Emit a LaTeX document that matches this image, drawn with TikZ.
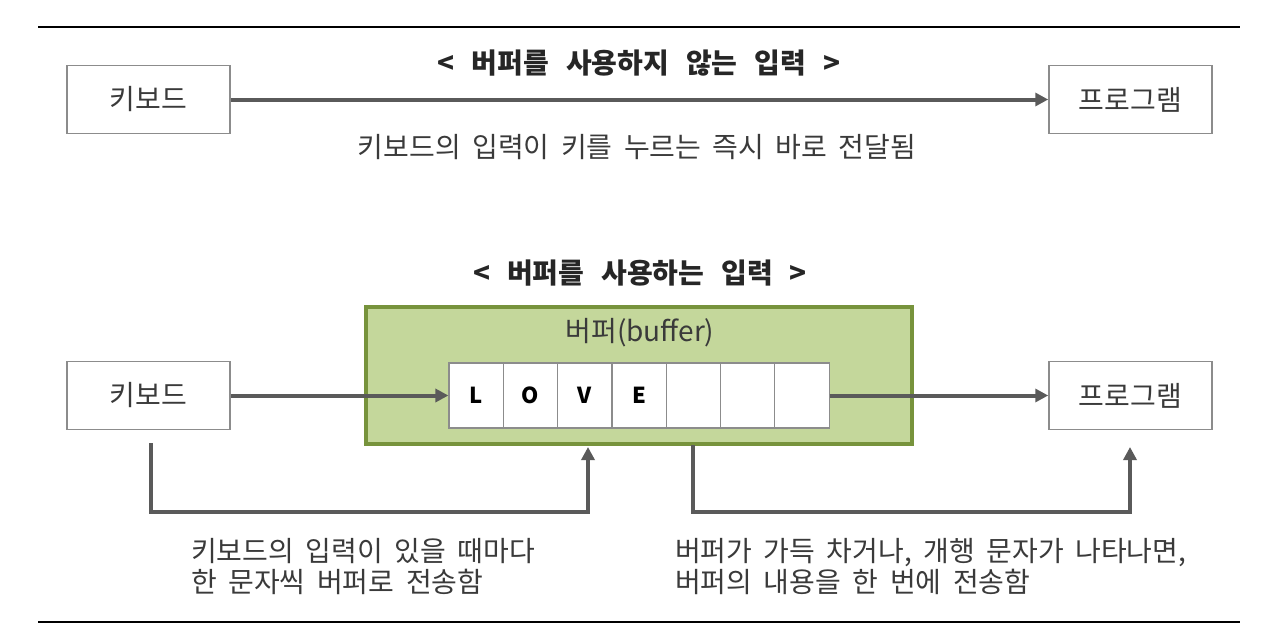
\documentclass[tikz,border=0pt]{standalone}
\usepackage{fontspec}
\setmainfont{Noto Sans CJK KR}
\usetikzlibrary{arrows.meta,calc}
\definecolor{linegray}{HTML}{5A5A5A}
\definecolor{boxgray}{HTML}{8C8C8C}
\definecolor{txtgray}{HTML}{3A3A3A}
\definecolor{bufgreen}{HTML}{C4D79B}
\definecolor{bufedge}{HTML}{77933C}
\newcommand{\korfont}{\fontsize{28}{31}\selectfont\spaceskip=11.5pt\relax}
\newcommand{\kortitle}{\fontsize{28}{31}\selectfont\bfseries\spaceskip=17pt\relax}
\tikzset{
  endbox/.style={draw=boxgray, line width=1.5pt, fill=white, minimum width=163pt, minimum height=68pt, inner sep=0pt, font=\korfont, text=txtgray},
  cellbox/.style={draw=boxgray, line width=1.2pt, fill=white, minimum width=54.3pt, minimum height=65pt, inner sep=0pt, font=\fontsize{22}{26}\selectfont\bfseries, text=black},
  conn/.style={draw=linegray, line width=4pt, -{Triangle[length=13pt,width=13pt]}},
  titletxt/.style={font=\kortitle, text=black!85},
  plaintxt/.style={font=\korfont, text=txtgray},
  caption/.style={font=\korfont, text=txtgray, align=left, anchor=west, inner sep=0pt},
}
\begin{document}
\begin{tikzpicture}[x=1pt,y=-1pt]
\useasboundingbox (0,0) rectangle (1280,640);
% rules
\coordinate (r1a) at (38,27);
\coordinate (r1b) at (1240,27);
\coordinate (r2a) at (38,622);
\coordinate (r2b) at (1240,622);
\draw[line width=2pt, black] (r1a) -- (r1b);
\draw[line width=2pt, black] (r2a) -- (r2b);
% top diagram
\node[titletxt] (t1) at (639,63) {< 버퍼를 사용하지 않는 입력 >};
\node[endbox] (kb1) at (148.5,99.5) {키보드};
\node[endbox] (pg1) at (1130.5,99.5) {프로그램};
\draw[conn] (kb1.east) -- (pg1.west);
\node[plaintxt] (c1) at (637,147) {키보드의 입력이 키를 누르는 즉시 바로 전달됨};
% bottom diagram
\node[titletxt] (t2) at (640,273) {< 버퍼를 사용하는 입력 >};
\node[draw=bufedge, fill=bufgreen, line width=4pt, minimum width=546pt, minimum height=137pt, inner sep=0pt] (buf) at (639,375) {};
\node[plaintxt] (bl) at (640,333) {버퍼(buffer)};
\foreach \i/\ch in {1/L,2/O,3/V,4/E,5/{},6/{},7/{}} {
  \node[cellbox] (cell\i) at ({449+27.15+(\i-1)*54.3},395.5) {\ch};
}
\node[endbox] (kb2) at (148.5,395.5) {키보드};
\node[endbox] (pg2) at (1130.5,395.5) {프로그램};
\draw[conn] (kb2.east) -- (cell1.west);
\draw[conn] (cell7.east) -- (pg2.west);
% elbows
\coordinate (e1a) at (151,443);
\coordinate (e1b) at (151,512);
\coordinate (e1c) at (588,512);
\coordinate (e1d) at (588,447);
\draw[conn, line join=miter] (e1a) -- (e1b) -- (e1c) -- (e1d);
\coordinate (e2a) at (693,445);
\coordinate (e2b) at (693,512);
\coordinate (e2c) at (1130,512);
\coordinate (e2d) at (1130,447);
\draw[conn, line join=miter] (e2a) -- (e2b) -- (e2c) -- (e2d);
\node[caption] (d1) at (191,567) {키보드의 입력이 있을 때마다\\한 문자씩 버퍼로 전송함};
\node[caption] (d2) at (675,567) {버퍼가 가득 차거나, 개행 문자가 나타나면,\\버퍼의 내용을 한 번에 전송함};
\end{tikzpicture}
\end{document}
